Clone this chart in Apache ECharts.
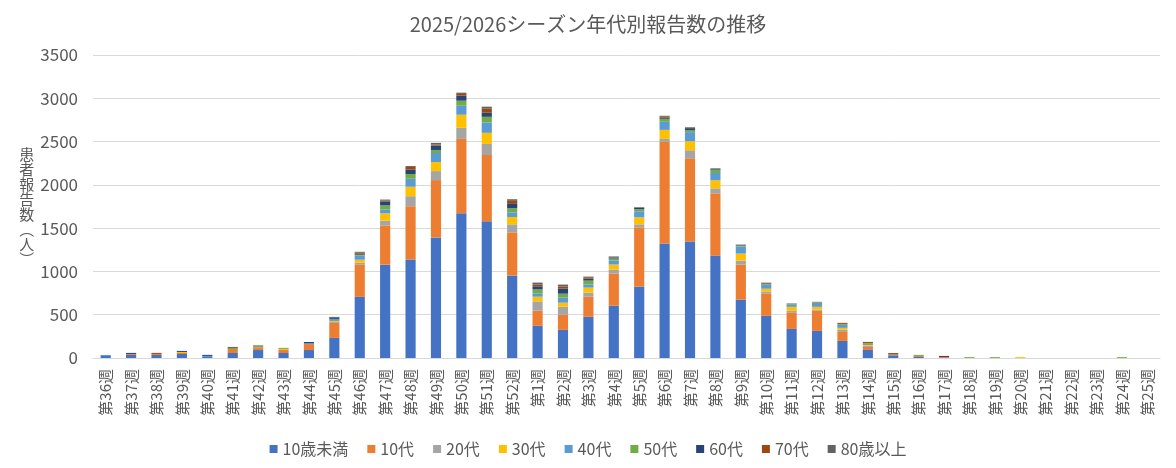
<!DOCTYPE html>
<html>
<head>
<meta charset="utf-8">
<script src="https://cdn.jsdelivr.net/npm/echarts@6/dist/echarts.min.js"></script>
<style>
  html, body { margin: 0; padding: 0; background: #fff; }
  #chart { width: 1176px; height: 468px; }
</style>
</head>
<body>
<div id="chart"></div>
<script>
// 週ラベル
const weeks = ['第36週', '第37週', '第38週', '第39週', '第40週', '第41週', '第42週', '第43週', '第44週',
  '第45週', '第46週', '第47週', '第48週', '第49週', '第50週', '第51週', '第52週',
  '第1週', '第2週', '第3週', '第4週', '第5週', '第6週', '第7週', '第8週', '第9週', '第10週',
  '第11週', '第12週', '第13週', '第14週', '第15週', '第16週', '第17週', '第18週', '第19週',
  '第20週', '第21週', '第22週', '第23週', '第24週', '第25週'];

// 年代別の報告数
const under10 = [23, 35, 35, 46, 12, 58, 92, 58, 92, 232, 706, 1078, 1138, 1393, 1672, 1579, 952,
  372, 325, 476, 604, 824, 1324, 1345, 1183, 673, 487, 336, 313, 197, 93, 23, 12, 0, 0, 0, 0, 0, 0, 0, 0, 0];
const age10s = [0, 12, 12, 12, 0, 46, 23, 35, 69, 173, 371, 453, 615, 662, 859, 766, 499,
  174, 174, 232, 371, 685, 1172, 962, 719, 405, 255, 186, 232, 104, 35, 12, 12, 12, 0, 0, 0, 0, 0, 0, 0, 0];
const age20s = [0, 0, 0, 0, 0, 0, 0, 0, 0, 12, 23, 56, 116, 104, 128, 128, 93,
  108, 93, 47, 47, 35, 35, 93, 58, 47, 23, 23, 15, 24, 12, 0, 0, 0, 0, 0, 0, 0, 0, 0, 0, 0];
const age30s = [0, 0, 0, 12, 0, 0, 0, 12, 0, 11, 35, 84, 109, 105, 151, 128, 85,
  54, 47, 58, 58, 81, 104, 104, 92, 81, 35, 46, 31, 23, 11, 0, 0, 0, 0, 0, 10, 0, 0, 0, 0, 0];
const age40s = [12, 0, 0, 0, 12, 0, 6, 0, 12, 24, 46, 46, 92, 104, 104, 120, 54,
  39, 58, 35, 46, 70, 93, 105, 85, 81, 46, 24, 47, 35, 12, 12, 0, 0, 0, 0, 0, 0, 0, 0, 0, 0];
const age50s = [0, 0, 0, 0, 0, 12, 12, 12, 0, 0, 12, 46, 55, 35, 58, 65, 47,
  46, 46, 46, 23, 23, 35, 23, 35, 8, 8, 7, 4, 11, 11, 0, 12, 0, 10, 10, 0, 0, 0, 0, 10, 0];
const age60s = [0, 12, 0, 12, 12, 0, 0, 0, 12, 11, 11, 46, 50, 51, 58, 47, 50,
  35, 58, 23, 12, 16, 12, 23, 8, 7, 8, 4, 0, 0, 0, 0, 0, 12, 0, 0, 0, 0, 0, 0, 0, 0];
const age70s = [0, 0, 12, 0, 0, 0, 12, 0, 0, 0, 12, 12, 31, 11, 20, 46, 35,
  20, 23, 16, 0, 0, 11, 5, 0, 0, 8, 0, 7, 12, 12, 11, 0, 0, 0, 0, 0, 0, 0, 0, 0, 0];
const over80 = [0, 0, 0, 0, 0, 12, 0, 0, 0, 12, 11, 9, 11, 20, 15, 24, 19,
  23, 24, 7, 12, 8, 12, 7, 11, 8, 0, 4, 0, 0, 0, 0, 0, 0, 0, 0, 0, 0, 0, 0, 0, 0];

const seriesNames = ['10歳未満', '10代', '20代', '30代', '40代', '50代', '60代', '70代', '80歳以上'];
const seriesData = [under10, age10s, age20s, age30s, age40s, age50s, age60s, age70s, over80];
const colors = ['#4472C4', '#ED7D31', '#A5A5A5', '#FFC000', '#5B9BD5', '#70AD47', '#264478', '#9E480E', '#636363'];

const fontFamily = '"Noto Sans CJK JP", "Noto Sans", sans-serif';
const textColor = '#595959';

const myChart = echarts.init(document.getElementById('chart'));

const option = {
  animation: false,
  color: colors,
  textStyle: { fontFamily: fontFamily },
  title: {
    text: '2025/2026シーズン年代別報告数の推移',
    left: 'center',
    top: 9,
    textStyle: { fontFamily: fontFamily, fontSize: 20, fontWeight: 'normal', color: textColor }
  },
  legend: {
    data: seriesNames,
    bottom: 6,
    left: 'center',
    icon: 'rect',
    itemWidth: 8,
    itemHeight: 8,
    itemGap: 19,
    textStyle: { fontFamily: fontFamily, fontSize: 16, color: textColor, padding: [0, 0, 0, 0] }
  },
  grid: {
    left: 93,
    right: 16,
    top: 55,
    bottom: 110,
    containLabel: false
  },
  xAxis: {
    type: 'category',
    data: weeks,
    axisLine: { lineStyle: { color: '#d9d9d9' } },
    axisTick: { show: false },
    axisLabel: {
      rotate: 90,
      interval: 0,
      margin: 11,
      fontSize: 15,
      color: textColor,
      fontFamily: fontFamily
    }
  },
  yAxis: {
    type: 'value',
    min: 0,
    max: 3500,
    interval: 500,
    name: '患者報告数︵人︶'.split('').join('\n'),
    nameLocation: 'middle',
    nameRotate: 0,
    nameGap: 54,
    nameTextStyle: { fontFamily: fontFamily, fontSize: 15, color: textColor, lineHeight: 15 },
    axisLine: { show: false },
    axisTick: { show: false },
    axisLabel: {
      fontSize: 17,
      color: textColor,
      margin: 15,
      fontFamily: fontFamily,
      formatter: (v) => String(v)
    },
    splitLine: { lineStyle: { color: '#d9d9d9', width: 1 } }
  },
  series: seriesNames.map((name, i) => ({
    name: name,
    type: 'bar',
    stack: 'total',
    barWidth: '40%',
    data: seriesData[i]
  }))
};

myChart.setOption(option);
</script>
</body>
</html>
